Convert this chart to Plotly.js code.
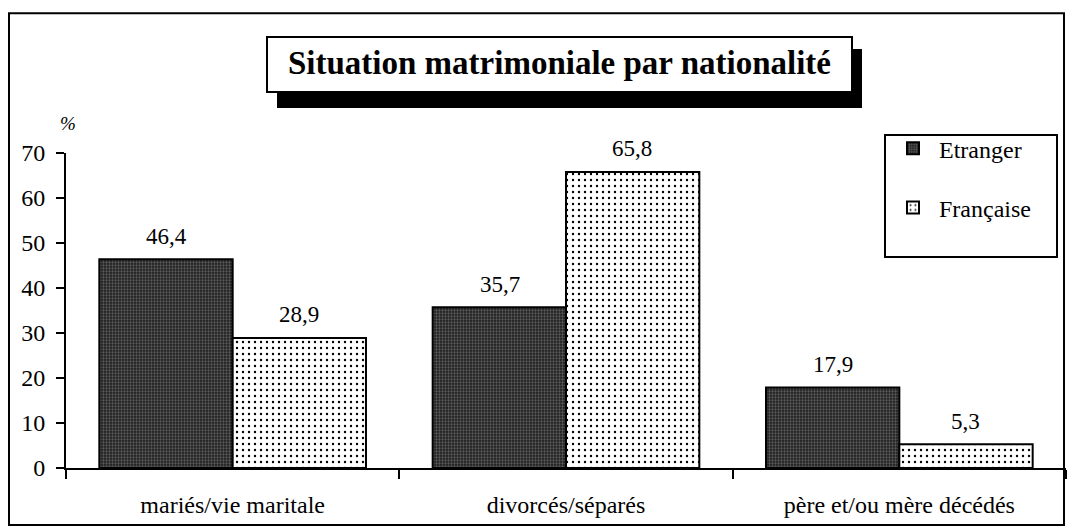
<!DOCTYPE html>
<html>
<head>
<meta charset="utf-8">
<script src="https://cdn.plot.ly/plotly-3.0.1.min.js"></script>
<style>html,body{margin:0;padding:0;background:#fff;}#chart{width:1070px;height:532px;}</style>
</head>
<body>
<div id="chart"></div>
<script>
const categories = ["mariés/vie maritale", "divorcés/séparés", "père et/ou mère décédés"];
const etranger = [46.4, 35.7, 17.9];
const francaise = [28.9, 65.8, 5.3];
const seriesNames = ["Etranger", "Française"];
const yTicks = [0, 10, 20, 30, 40, 50, 60, 70];
const chartTitle = "Situation matrimoniale par nationalité";

const FONT = "Liberation Serif, Times New Roman, serif";
const fmt = v => v.toFixed(1).replace('.', ',');

const traces = [
  {
    type: 'bar', name: seriesNames[0], x: categories, y: etranger,
    legendgroup: 'a',
    marker: {color: '#222', line: {color: '#000', width: 2},
      pattern: {shape: '.', bgcolor: '#1e1e1e', fgcolor: '#5c5c5c', size: 3, solidity: 0.45, fillmode: 'replace'}},
    hoverinfo: 'skip'
  },
  {
    type: 'bar', name: seriesNames[1], x: categories, y: francaise,
    legendgroup: 'b',
    marker: {color: '#ffffff', line: {color: '#000', width: 2},
      pattern: {shape: '.', bgcolor: '#ffffff', fgcolor: '#000000', size: 6, solidity: 0.12, fillmode: 'replace'}},
    hoverinfo: 'skip'
  }
];

const annotations = [];
categories.forEach((c, i) => {
  annotations.push({x: c, y: etranger[i], xref: 'x', yref: 'y', text: fmt(etranger[i]), showarrow: false,
    xshift: -66, yshift: 23, yanchor: 'middle', font: {family: FONT, size: 23, color: '#000'}});
  annotations.push({x: c, y: francaise[i], xref: 'x', yref: 'y', text: fmt(francaise[i]), showarrow: false,
    xshift: 66, yshift: 23, yanchor: 'middle', font: {family: FONT, size: 23, color: '#000'}});
});
annotations.push({xref: 'paper', yref: 'paper', x: 0.4935, y: 1.286, text: '<b>' + chartTitle + '</b>',
  showarrow: false, xanchor: 'center', yanchor: 'middle', font: {family: FONT, size: 33, color: '#000'}});
annotations.push({xref: 'paper', yref: 'paper', x: 0.002, y: 1.095, text: '<i>%</i>', showarrow: false,
  xanchor: 'center', yanchor: 'middle', font: {family: FONT, size: 19, color: '#000'}});

const shapes = [
  {type: 'rect', xref: 'paper', yref: 'paper', x0: -0.057, x1: 0.998, y0: -0.181, y1: 1.444,
    line: {color: '#000', width: 2}, fillcolor: 'rgba(0,0,0,0)', layer: 'below'},
  {type: 'rect', xref: 'paper', yref: 'paper', x0: 0.211, x1: 0.796, y0: 1.143, y1: 1.33,
    line: {width: 0}, fillcolor: '#000'},
  {type: 'rect', xref: 'paper', yref: 'paper', x0: 0.201, x1: 0.786, y0: 1.194, y1: 1.368,
    line: {color: '#000', width: 2}, fillcolor: '#fff'},
  {type: 'rect', xref: 'paper', yref: 'paper', x0: 0.819, x1: 0.991, y0: 0.670, y1: 1.057,
    line: {color: '#000', width: 2}, fillcolor: '#fff'}
];

const layout = {
  width: 1070, height: 532,
  margin: {l: 66, r: 4, t: 153, b: 64},
  paper_bgcolor: '#fff', plot_bgcolor: '#fff',
  separators: ', ',
  barmode: 'group', bargap: 0.2, bargroupgap: 0,
  font: {family: FONT, color: '#000', size: 20},
  showlegend: true,
  legend: {x: 0.821, y: 1.085, xanchor: 'left', yanchor: 'top', borderwidth: 0,
    bgcolor: 'rgba(0,0,0,0)', font: {family: FONT, size: 24, color: '#000'}, traceorder: 'grouped', tracegroupgap: 25,
    itemwidth: 42},
  xaxis: {type: 'category', tickson: 'boundaries', ticks: 'outside', ticklen: 9, tickwidth: 2, tickcolor: '#000',
    showline: true, linecolor: '#000', linewidth: 2, showgrid: false, zeroline: false,
    ticklabelstandoff: 14, tickfont: {family: FONT, size: 24, color: '#000'}, fixedrange: true},
  xaxis2: {type: 'linear', overlaying: 'x', anchor: 'y', range: [-0.5, 2.5], tickvals: [0.5, 1.5, 2.5],
    ticks: 'inside', ticklen: 9, tickwidth: 2, tickcolor: '#000', showticklabels: false, showline: false,
    showgrid: false, zeroline: false, side: 'bottom'},
  yaxis: {range: [0, 70], tickvals: yTicks, ticktext: yTicks.map(String), ticks: 'outside', ticklen: 8,
    tickwidth: 2, tickcolor: '#000', showline: true, linecolor: '#000', linewidth: 2, showgrid: false,
    zeroline: false, ticklabelstandoff: 6, tickfont: {family: FONT, size: 24, color: '#000'}},
  yaxis2: {range: [0, 70], overlaying: 'y', anchor: 'x', tickvals: yTicks, ticks: 'inside', ticklen: 9,
    tickwidth: 2, tickcolor: '#000', showticklabels: false, showline: false, showgrid: false, zeroline: false,
    side: 'left'},
  shapes: shapes,
  annotations: annotations
};

Plotly.newPlot('chart', traces, layout, {staticPlot: true});
</script>
</body>
</html>
